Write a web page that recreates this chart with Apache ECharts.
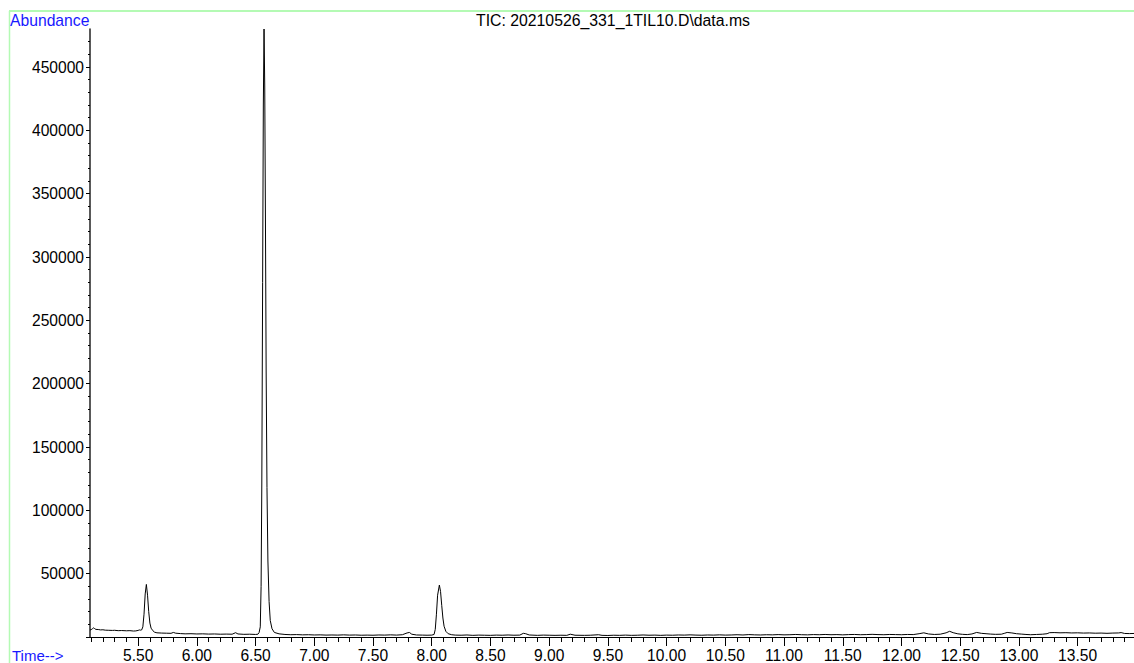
<!DOCTYPE html>
<html>
<head>
<meta charset="utf-8">
<script src="https://cdn.jsdelivr.net/npm/echarts@6/dist/echarts.min.js"></script>
<style>
html,body{margin:0;padding:0;background:#fff;}
#chart{width:1134px;height:663px;}
</style>
</head>
<body>
<div id="chart"></div>
<script>
// ---- Data (retention time in minutes, abundance) ----
const chartTitle = "TIC: 20210526_331_1TIL10.D\\data.ms";
const yAxisName = "Abundance";
const xAxisName = "Time-->";

const times = [
  5.09,5.10,5.11,5.12,5.13,5.14,5.16,5.18,5.20,5.22,5.25,5.28,5.30,5.33,5.36,5.40,5.43,5.46,5.48,5.50,5.51,5.52,5.53,
  5.540,5.550,5.560,5.570,5.580,5.590,5.600,5.610,5.625,5.640,
  5.66,5.70,5.74,5.78,5.80,5.82,5.86,5.90,5.95,6.00,6.05,6.10,6.15,6.20,6.25,6.30,6.33,6.35,6.40,6.45,6.50,6.52,
  6.530,6.540,6.547,6.553,6.560,6.566,6.572,6.578,6.584,6.590,6.597,6.605,6.615,6.625,6.640,6.660,
  6.70,6.75,6.80,6.85,6.90,6.95,7.00,7.05,7.10,7.15,7.20,7.25,7.30,7.35,7.40,7.45,7.50,7.55,7.60,7.65,7.70,7.75,7.79,7.81,7.83,7.87,7.92,7.96,8.00,
  8.02,8.03,8.04,8.05,8.065,8.075,8.085,8.095,8.105,8.12,8.14,8.17,
  8.20,8.25,8.30,8.35,8.40,8.45,8.50,8.55,8.60,8.65,8.70,8.75,8.78,8.80,8.83,8.90,8.95,9.00,9.05,9.10,9.15,9.18,9.22,9.30,9.35,9.42,9.45,9.50,
  9.55,9.60,9.65,9.70,9.75,9.80,9.85,9.90,9.95,10.00,10.05,10.10,10.15,10.20,10.25,10.30,10.35,10.40,10.45,10.50,
  10.55,10.60,10.65,10.70,10.75,10.80,10.85,10.90,10.95,11.00,11.05,11.10,11.15,11.20,11.25,11.30,11.35,11.40,11.45,11.50,
  11.55,11.60,11.65,11.70,11.75,11.80,11.85,11.90,11.95,12.00,12.05,12.10,12.15,12.19,12.23,12.28,12.33,12.38,12.41,12.44,12.48,
  12.52,12.56,12.60,12.64,12.68,12.72,12.76,12.80,12.85,12.88,12.90,12.94,12.98,13.02,13.06,13.10,13.15,13.20,13.24,13.26,
  13.30,13.35,13.40,13.45,13.50,13.55,13.60,13.65,13.70,13.75,13.80,13.85,13.87,13.90,13.94,13.98
];
const abundance = [
  5500,5800,6500,7200,6600,6000,5900,5600,5700,5400,5300,5200,5300,5000,5100,4900,5000,4700,4800,5200,5600,5400,5600,
  8000,18000,34000,41500,33000,20000,11000,7000,5000,3800,
  3300,3100,3000,2900,3600,3000,2700,2500,2600,2400,2500,2300,2400,2200,2300,2200,3400,2400,2100,2200,2000,2200,
  3500,8000,40000,120000,280000,420000,480000,435000,330000,210000,118000,60000,28000,13000,6500,3600,
  2500,2000,1800,1900,1700,1800,1600,1700,1500,1600,1500,1700,1500,1600,1400,1500,1400,1600,1500,1700,1500,1800,3200,3600,2200,1600,1500,1400,1500,
  2000,6000,18000,33000,41000,36000,25000,15000,8500,4500,2600,1800,
  1500,1400,1600,1300,1500,1400,1300,1500,1400,1600,1400,1500,2900,2600,1600,1300,1500,1400,1300,1400,1300,2200,1400,1300,1400,1800,1300,1200,
  1400,1300,1500,1300,1400,1600,1400,1500,1300,1500,1400,1600,1500,1700,1500,1400,1600,1500,1700,1500,
  1600,1800,1600,1900,1700,1600,1800,1700,1900,1700,1800,2000,1800,1700,1900,1800,2000,1800,1900,1700,
  1900,2000,1800,1900,2100,1900,1800,2000,1900,1800,2000,1900,2600,3300,2400,2000,2200,3300,4500,3400,2500,
  2100,1900,2400,3600,2900,2600,2300,2100,2200,3000,3600,3200,2600,2300,2000,1800,2000,2200,2600,3400,
  3500,3300,3400,3200,3300,3100,3200,3000,3100,2900,3100,3200,3500,2800,2700,2800
];

// axis extents and tick labels
const xMin = 5.09, xMax = 13.98;
const xTickLabels = ["5.50","6.00","6.50","7.00","7.50","8.00","8.50","9.00","9.50","10.00","10.50","11.00","11.50","12.00","12.50","13.00","13.50"];
const yMin = 0, yMax = 480000;
const yTickLabels = ["50000","100000","150000","200000","250000","300000","350000","400000","450000"];

// ---- build ----
const xMajor = xTickLabels.map(Number);
const xMinor = [];
for (let i = 51; i <= 139; i++) { if (i % 5 !== 0) xMinor.push(i / 10); }
const yMajor = [0].concat(yTickLabels.map(Number));
const yMinor = [];
for (let v = 10000; v <= 470000; v += 10000) { if (v % 50000 !== 0) yMinor.push(v); }

const seriesData = times.map((t, i) => [t, abundance[i]]);
const FONT = '"Liberation Sans", Arial, sans-serif';
const BLUE = 'rgb(24,24,255)';

const chart = echarts.init(document.getElementById('chart'), null, {renderer: 'svg'});
chart.setOption({
  animation: false,
  backgroundColor: '#fff',
  grid: {left: 90, right: 0, top: 29, bottom: 26, containLabel: false},
  xAxis: [
    {
      type: 'value', min: xMin, max: xMax, position: 'bottom',
      axisLine: {show: true, onZero: false, lineStyle: {color: '#000', width: 1}},
      axisTick: {show: true, length: 9, customValues: xMajor, lineStyle: {color: '#000', width: 1}},
      axisLabel: {show: true, customValues: xMajor, formatter: v => v.toFixed(2), margin: 10,
        color: '#000', fontSize: 15.6, fontFamily: FONT},
      splitLine: {show: false}
    },
    {
      type: 'value', min: xMin, max: xMax, position: 'bottom', gridIndex: 0,
      axisLine: {show: false, onZero: false},
      axisTick: {show: true, length: 5, customValues: xMinor, lineStyle: {color: '#000', width: 1}},
      axisLabel: {show: false},
      splitLine: {show: false}
    }
  ],
  yAxis: [
    {
      type: 'value', min: yMin, max: yMax, position: 'left',
      axisLine: {show: true, onZero: false, lineStyle: {color: '#222', width: 1.5}},
      axisTick: {show: true, length: 4, customValues: yMajor, lineStyle: {color: '#000', width: 1}},
      axisLabel: {show: true, customValues: yTickLabels.map(Number), formatter: v => String(v), margin: 6,
        color: '#000', fontSize: 15.6, fontFamily: FONT},
      splitLine: {show: false}
    },
    {
      type: 'value', min: yMin, max: yMax, position: 'left', gridIndex: 0,
      axisLine: {show: false, onZero: false},
      axisTick: {show: true, length: 2, customValues: yMinor, lineStyle: {color: '#000', width: 1}},
      axisLabel: {show: false},
      splitLine: {show: false}
    }
  ],
  series: [{
    type: 'line', xAxisIndex: 0, yAxisIndex: 0,
    data: seriesData, showSymbol: false, symbol: 'none',
    lineStyle: {color: '#000', width: 1}, smooth: false
  }],
  graphic: [
    {type: 'line', shape: {x1: 9, y1: 11, x2: 1134, y2: 11}, style: {stroke: '#b4fab4', lineWidth: 2}, silent: true},
    {type: 'line', shape: {x1: 9.5, y1: 11, x2: 9.5, y2: 663}, style: {stroke: '#b4fab4', lineWidth: 1.5}, silent: true},
    {type: 'text', x: 10, y: 20, style: {text: yAxisName, fill: BLUE, font: '15.7px ' + FONT, textAlign: 'left', textVerticalAlign: 'middle', verticalAlign: 'middle'}},
    {type: 'text', x: 613, y: 20, style: {text: chartTitle, fill: '#000', font: '15.8px ' + FONT, textAlign: 'center', align: 'center', textVerticalAlign: 'middle', verticalAlign: 'middle'}},
    {type: 'text', x: 12, y: 655, style: {text: xAxisName, fill: BLUE, font: '15px ' + FONT, textAlign: 'left', textVerticalAlign: 'middle', verticalAlign: 'middle'}}
  ]
});
</script>
</body>
</html>
